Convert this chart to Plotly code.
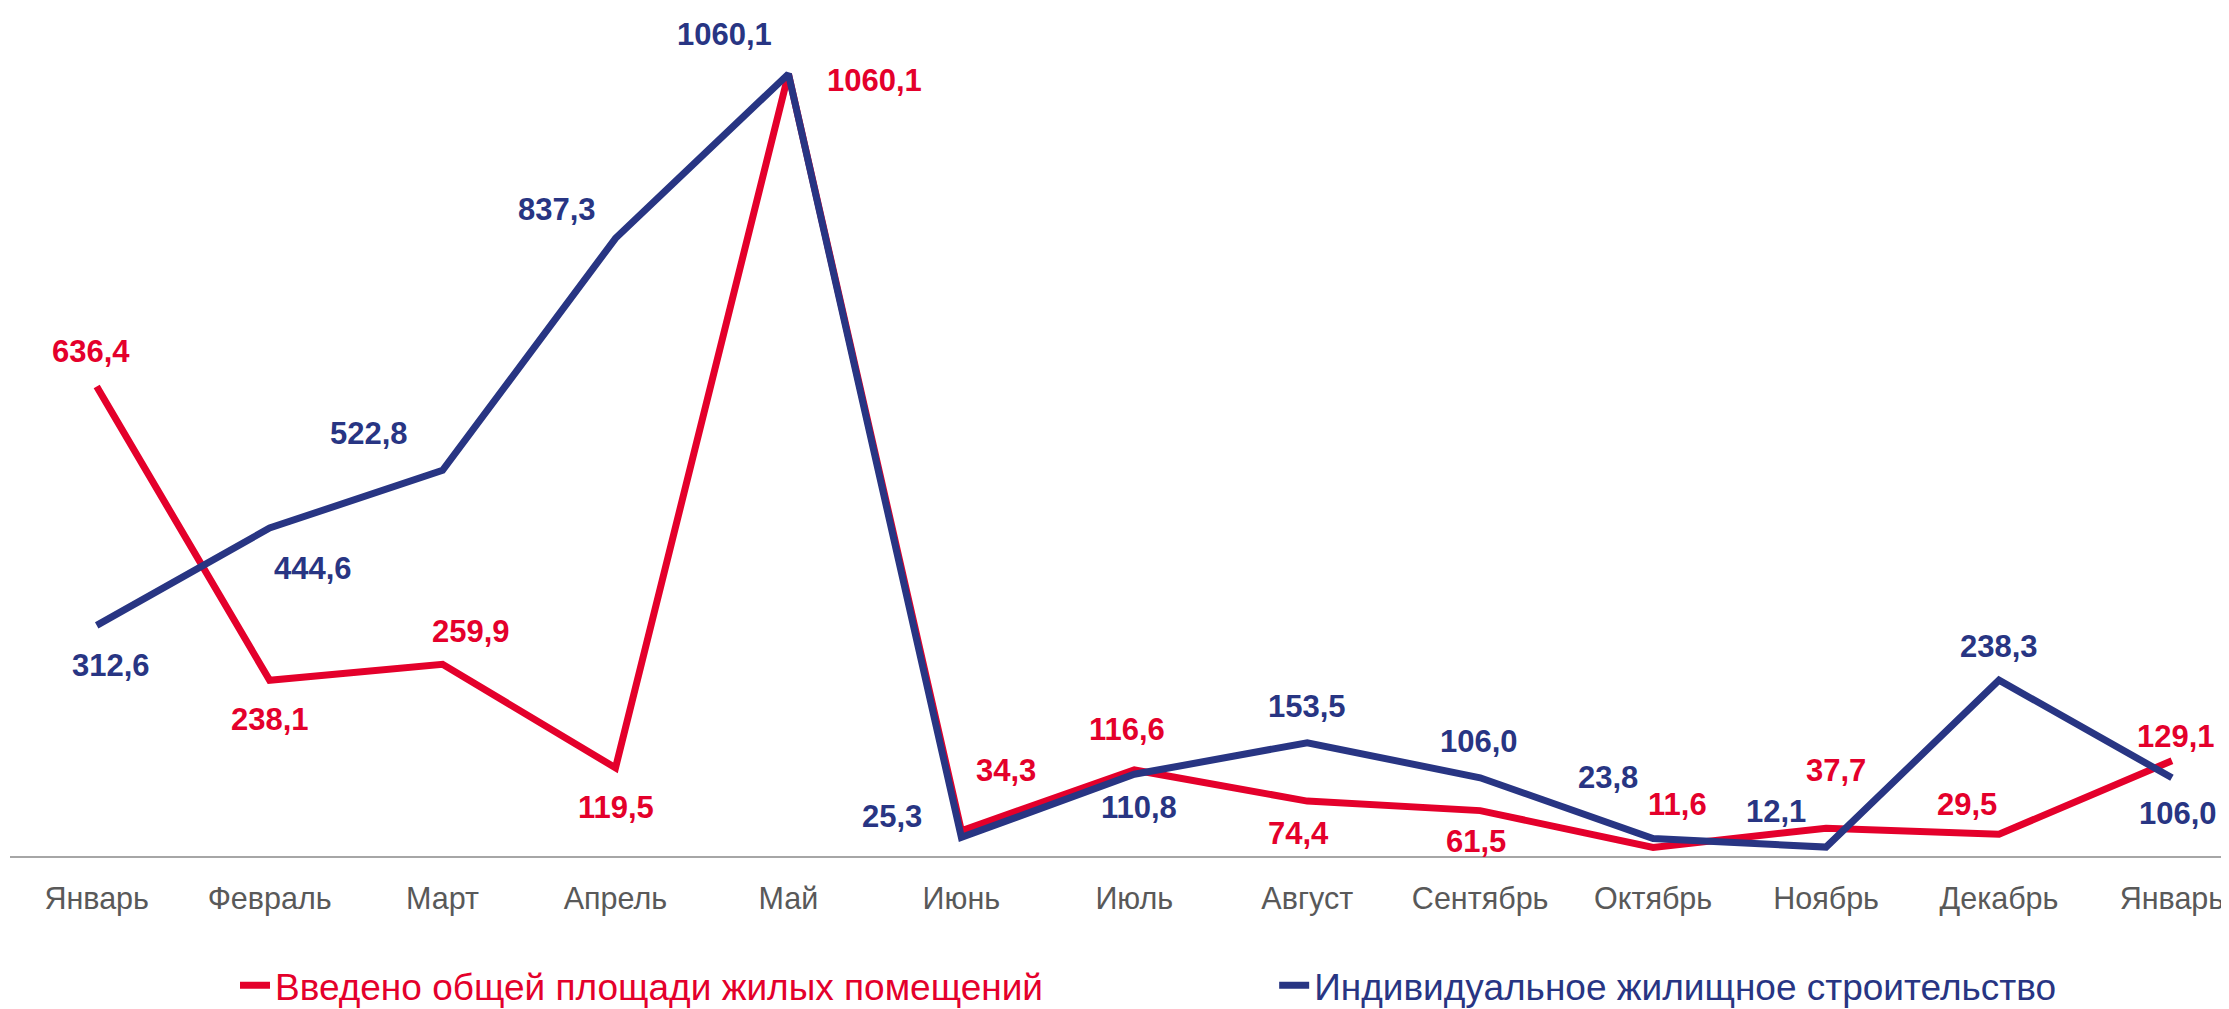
import plotly.graph_objects as go

months = ["Январь", "Февраль", "Март", "Апрель", "Май", "Июнь", "Июль",
          "Август", "Сентябрь", "Октябрь", "Ноябрь", "Декабрь", "Январь"]
total_area = [636.4, 238.1, 259.9, 119.5, 1060.1, 34.3, 116.6, 74.4, 61.5, 11.6, 37.7, 29.5, 129.1]
izhs = [312.6, 444.6, 522.8, 837.3, 1060.1, 25.3, 110.8, 153.5, 106.0, 23.8, 12.1, 238.3, 106.0]
red_name = "Введено общей площади жилых помещений"
blue_name = "Индивидуальное жилищное строительство"

RED = "#E4002B"
BLUE = "#283583"
FONT = "Liberation Sans, Arial, sans-serif"

# label placement offsets (pixels) – styling only
red_off = [(-6, 35), (0, -39), (28, 33), (0, -40), (86, -7), (45, 60), (-7, 40),
           (-9, -32), (-4, -31), (24, 43), (10, 58), (-32, 30), (4, 24)]
blue_off = [(14, -40), (43, -40), (-74, 37), (-59, 29), (-64, 39), (-69, 21), (5, -33),
            (0, 36), (-1, 36), (-45, 61), (-50, 36), (0, 34), (6, -36)]

xs = list(range(len(months)))

fig = go.Figure()
fig.add_trace(go.Scatter(x=xs, y=total_area, mode="lines", name=red_name,
                         line=dict(color=RED, width=7), legend="legend"))
fig.add_trace(go.Scatter(x=xs, y=izhs, mode="lines", name=blue_name,
                         line=dict(color=BLUE, width=7), legend="legend2"))


def fmt(v):
    return f"{v:.1f}".replace(".", ",")


annotations = []
for i, v in enumerate(total_area):
    dx, dy = red_off[i]
    annotations.append(dict(x=xs[i], y=v, xref="x", yref="y", text=fmt(v), showarrow=False,
                            xshift=dx, yshift=dy,
                            font=dict(family=FONT, size=31, color=RED, weight=700)))
for i, v in enumerate(izhs):
    dx, dy = blue_off[i]
    annotations.append(dict(x=xs[i], y=v, xref="x", yref="y", text=fmt(v), showarrow=False,
                            xshift=dx, yshift=dy,
                            font=dict(family=FONT, size=31, color=BLUE, weight=700)))

fig.update_layout(
    width=2221, height=1009,
    margin=dict(l=2, r=0, t=0, b=150.4),
    paper_bgcolor="white", plot_bgcolor="white",
    annotations=annotations,
    xaxis=dict(range=[-0.5013, 12.33], tickmode="array", tickvals=xs, ticktext=months,
               showgrid=False, zeroline=False, showline=True, linecolor="#A6A6A6", linewidth=2,
               ticks="", tickfont=dict(family=FONT, size=30.5, color="#595959"),
               ticklabelstandoff=14, fixedrange=True),
    yaxis=dict(range=[0, 1149.5], visible=False, showgrid=False, zeroline=False, fixedrange=True),
    legend=dict(orientation="h", x=0.1014, y=-0.153, xanchor="left", yanchor="middle",
                font=dict(family=FONT, size=37, color=RED), bgcolor="rgba(0,0,0,0)"),
    legend2=dict(orientation="h", x=0.5697, y=-0.153, xanchor="left", yanchor="middle",
                 font=dict(family=FONT, size=37, color=BLUE), bgcolor="rgba(0,0,0,0)"),
    showlegend=True,
)

fig.write_html("out.html")
